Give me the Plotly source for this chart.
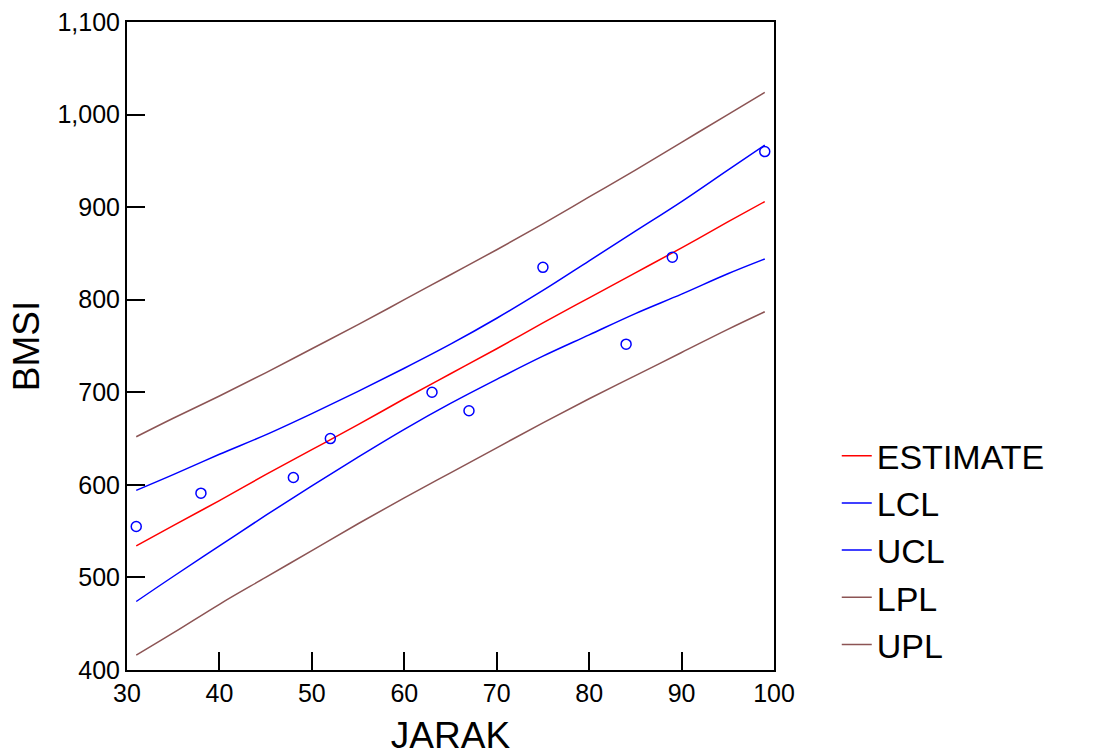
import plotly.graph_objects as go

# observed points
jarak = [31, 38, 48, 52, 63, 67, 75, 84, 89, 99]
bmsi = [555, 591, 608, 650, 700, 680, 835, 752, 846, 960]

# curve values at these x positions
x_curve = [31, 35, 40, 45, 50, 55, 60, 65, 70, 75, 80, 85, 90, 95, 99]
estimate = [534, 556, 583, 611, 638, 665, 693, 720, 747, 775, 802, 829, 856, 884, 906]
lcl = [474, 501, 534, 567, 599, 630, 660, 688, 714, 739, 762, 785, 806, 828, 844]
ucl = [594, 611, 633, 654, 677, 701, 726, 752, 780, 810, 842, 874, 906, 940, 967]
lpl = [416, 440, 471, 500, 529, 558, 586, 613, 640, 667, 693, 718, 743, 768, 787]
upl = [652, 672, 696, 721, 747, 773, 800, 827, 854, 882, 911, 940, 970, 1000, 1024]

RED = "#ff0000"
BLUE = "#0000ff"
BROWN = "#8c5454"

fig = go.Figure()
for name, vals, col in [("ESTIMATE", estimate, RED), ("LCL", lcl, BLUE), ("UCL", ucl, BLUE),
                        ("LPL", lpl, BROWN), ("UPL", upl, BROWN)]:
    fig.add_trace(go.Scatter(x=x_curve, y=vals, mode="lines", name=name,
                             line=dict(color=col, width=1.5, shape="spline")))

fig.add_trace(go.Scatter(x=jarak, y=bmsi, mode="markers", showlegend=False,
                         marker=dict(symbol="circle-open", color=BLUE, size=10,
                                     line=dict(width=1.5, color=BLUE))))

font_family = "Liberation Sans, Arial, sans-serif"
fig.update_layout(
    width=1094, height=756,
    margin=dict(l=127, r=320, t=22, b=86, autoexpand=False),
    paper_bgcolor="white", plot_bgcolor="white",
    font=dict(family=font_family, color="black"),
    legend=dict(x=1.097, y=0.185, xanchor="left", yanchor="middle",
                font=dict(size=34, family=font_family), itemwidth=30,
                tracegroupgap=0, bgcolor="rgba(0,0,0,0)"),
    xaxis=dict(range=[30, 100], dtick=10, tick0=30, ticks="inside", ticklen=18,
               tickwidth=2, tickcolor="black", showline=True, linecolor="black",
               linewidth=2, mirror=True, showgrid=False, zeroline=False, automargin=False,
               tickfont=dict(size=25), title=dict(text="JARAK", font=dict(size=37), standoff=16)),
    yaxis=dict(range=[400, 1100], dtick=100, tick0=400, ticks="inside", ticklen=18,
               tickwidth=2, tickcolor="black", showline=True, linecolor="black",
               linewidth=2, mirror=True, showgrid=False, zeroline=False, automargin=False,
               tickformat=",d", tickfont=dict(size=25),
               title=dict(text="BMSI", font=dict(size=37), standoff=6)),
)

fig.write_html("out.html")
